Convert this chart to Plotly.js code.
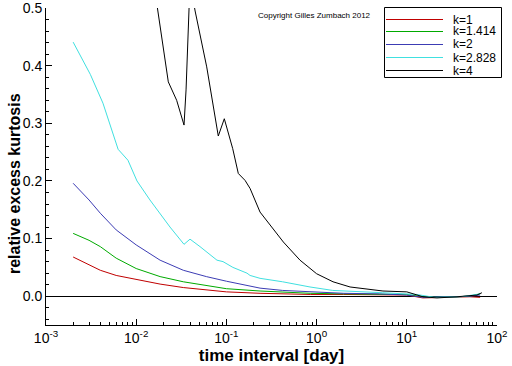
<!DOCTYPE html>
<html>
<head>
<meta charset="utf-8">
<script src="https://cdn.plot.ly/plotly-3.0.1.min.js"></script>
<style>html,body{margin:0;padding:0;background:#fff;}#chart{width:512px;height:366px;}</style>
</head>
<body>
<div id="chart"></div>
<script>
// time interval [day] and relative excess kurtosis
var seriesNames = ["k=1", "k=1.414", "k=2", "k=2.828", "k=4"];
var seriesColors = ["#c00000", "#00aa00", "#3c3cb4", "#40e0e0", "#000000"];

var xTickVals = [0.001, 0.01, 0.1, 1, 10, 100];
var xTickText = ["10<sup>-3</sup>", "10<sup>-2</sup>", "10<sup>-1</sup>", "10<sup>0</sup>", "10<sup>1</sup>", "10<sup>2</sup>"];

var xRGB = [0.002, 0.003, 0.004, 0.006, 0.01, 0.0184, 0.0333, 0.06, 0.1, 0.236, 0.42, 0.85, 2, 5, 10, 15, 22, 35, 50, 65];
var yK1  = [0.068, 0.055, 0.045, 0.036, 0.0295, 0.021, 0.015, 0.011, 0.0075, 0.005, 0.004, 0.003, 0.003, 0.002, 0.002, -0.003, -0.002, -0.002, -0.001, -0.002];
var yK14 = [0.109, 0.097, 0.086, 0.066, 0.048, 0.034, 0.025, 0.018, 0.013, 0.009, 0.007, 0.005, 0.004, 0.003, 0.003, -0.001, -0.002, -0.001, 0.0, 0.004];
var yK2  = [0.196, 0.167, 0.144, 0.115, 0.089, 0.0625, 0.045, 0.034, 0.026, 0.014, 0.010, 0.0075, 0.005, 0.004, 0.002, -0.002, -0.002, -0.001, 0.0, 0.002];

var xK28 = [0.002, 0.0031, 0.00428, 0.0063, 0.0081, 0.0102, 0.0142, 0.0237, 0.0339, 0.0395, 0.051, 0.0786, 0.0917, 0.118, 0.169, 0.183, 0.236, 0.42, 0.845, 1.51, 5.4, 12.9, 20, 40, 65];
var yK28 = [0.441, 0.385, 0.335, 0.255, 0.236, 0.2, 0.167, 0.12, 0.090, 0.099, 0.086, 0.0625, 0.06, 0.05, 0.04, 0.036, 0.031, 0.025, 0.016, 0.01, 0.006, 0.003, -0.002, -0.001, 0.004];

var xK4 = [0.01, 0.017, 0.0227, 0.0281, 0.0339, 0.0357, 0.0367, 0.0375, 0.0395, 0.045, 0.0605, 0.0813, 0.0948, 0.1175, 0.1355, 0.161, 0.183, 0.236, 0.331, 0.428, 0.655, 1.0, 1.52, 2.35, 5.44, 10, 15.1, 21.6, 36, 60, 68];
var yK4 = [0.75, 0.50, 0.372, 0.34, 0.297, 0.358, 0.40, 0.44, 0.545, 0.495, 0.398, 0.278, 0.308, 0.256, 0.213, 0.201, 0.187, 0.146, 0.117, 0.094, 0.0625, 0.039, 0.025, 0.016, 0.009, 0.0075, -0.001, -0.003, -0.001, 0.002, 0.006];

var xs = [xRGB, xRGB, xRGB, xK28, xK4];
var ys = [yK1, yK14, yK2, yK28, yK4];

var font = "Liberation Sans, Arial, Helvetica, sans-serif";
var traces = seriesNames.map(function (n, i) {
  return {x: xs[i], y: ys[i], name: n, type: "scatter", mode: "lines",
          line: {color: seriesColors[i], width: 1}};
});

// plot area in pixels: left 46, right 497, top 8, bottom 325
function px(x) { return (x - 46) / 451; }
function py(y) { return (325 - y) / 317; }

var shapes = [{type: "rect", xref: "paper", yref: "paper", x0: px(384.5), x1: px(501.5), y0: py(7.5), y1: py(77.5),
               line: {color: "#000", width: 1}, fillcolor: "#fff", layer: "above"}];
var annotations = [{text: "Copyright Gilles Zumbach 2012", xref: "paper", yref: "paper",
                    x: px(256), y: py(16), xanchor: "left", yanchor: "middle", showarrow: false,
                    font: {family: font, size: 8, color: "#000"}},
                   {text: "relative excess kurtosis", xref: "paper", yref: "paper", textangle: -90,
                    x: px(14), y: py(184), xanchor: "center", yanchor: "middle", showarrow: false,
                    font: {family: font, size: 16, color: "#000", weight: "bold"}}];
var legendRows = [19.5, 31.5, 44.5, 57.5, 70.5];
seriesNames.forEach(function (n, i) {
  shapes.push({type: "line", xref: "paper", yref: "paper", x0: px(386), x1: px(443),
               y0: py(legendRows[i]), y1: py(legendRows[i]), line: {color: seriesColors[i], width: 1}, layer: "above"});
  annotations.push({text: n, xref: "paper", yref: "paper", x: px(451), y: py(legendRows[i]),
                    xanchor: "left", yanchor: "middle", showarrow: false,
                    font: {family: font, size: 12, color: "#000"}});
});

var layout = {
  width: 512, height: 366,
  margin: {l: 46, r: 15, t: 8, b: 41},
  paper_bgcolor: "#fff", plot_bgcolor: "#fff",
  font: {family: font, color: "#000", size: 14},
  showlegend: false,
  xaxis: {type: "log", range: [-3, 2], tickmode: "array", tickvals: xTickVals, ticktext: xTickText,
          showline: true, linecolor: "#000", linewidth: 1, mirror: false,
          ticks: "inside", ticklen: 6, tickcolor: "#000", showgrid: false, zeroline: false,
          minor: {ticks: "inside", ticklen: 3, tickcolor: "#000", dtick: "D1", showgrid: false},
          tickfont: {family: font, size: 14, color: "#000"},
          title: {text: "time interval [day]", font: {family: font, size: 17, color: "#000", weight: "bold"}, standoff: 1}},
  yaxis: {range: [-0.05, 0.5002], dtick: 0.1, tick0: 0, tickformat: ".1f",
          showline: true, linecolor: "#000", linewidth: 1, mirror: false,
          ticks: "inside", ticklen: 6, tickcolor: "#000", showgrid: false,
          zeroline: true, zerolinecolor: "#000", zerolinewidth: 1,
          minor: {ticks: "inside", ticklen: 3, tickcolor: "#000", dtick: 0.02, showgrid: false},
          tickfont: {family: font, size: 14, color: "#000"}},
  shapes: shapes,
  annotations: annotations
};

Plotly.newPlot("chart", traces, layout, {displayModeBar: false, staticPlot: true});
</script>
</body>
</html>
